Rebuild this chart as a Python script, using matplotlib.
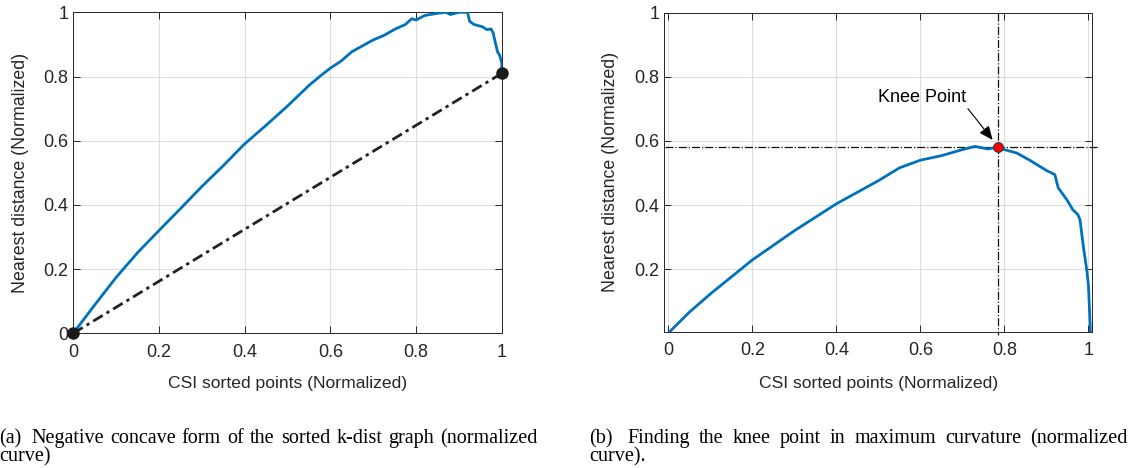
import matplotlib
matplotlib.use("Agg")
import matplotlib.pyplot as plt

# ---------------- data ----------------
left_x = [0.0, 0.05, 0.1, 0.15, 0.2, 0.25, 0.3, 0.35, 0.4, 0.45, 0.5, 0.55, 0.575,
          0.6, 0.625, 0.65, 0.7, 0.725, 0.75, 0.775, 0.79, 0.80, 0.82, 0.85, 0.87,
          0.88, 0.9, 0.92, 0.925, 0.935, 0.955, 0.965, 0.975, 0.98, 0.985, 0.99,
          0.995, 1.0, 1.0]
left_y = [0.0, 0.088, 0.174, 0.251, 0.32, 0.388, 0.457, 0.522, 0.59, 0.648, 0.708,
          0.772, 0.80, 0.826, 0.848, 0.877, 0.914, 0.928, 0.947, 0.962, 0.98, 0.976,
          0.99, 0.997, 1.0, 0.993, 1.0, 1.0, 0.972, 0.962, 0.955, 0.946, 0.948,
          0.935, 0.905, 0.877, 0.866, 0.842, 0.81]
chord_x = [0.0, 1.0]
chord_y = [0.0, 0.81]

right_x = [0.003, 0.05, 0.1, 0.2, 0.3, 0.4, 0.5, 0.55, 0.6, 0.65, 0.7, 0.73, 0.76, 0.784,
           0.8, 0.83, 0.86, 0.88, 0.9, 0.92, 0.928, 0.95, 0.963, 0.975, 0.98, 0.988,
           0.996, 1.0, 1.005]
right_y = [0.005, 0.066, 0.123, 0.229, 0.32, 0.404, 0.476, 0.516, 0.54, 0.554, 0.573,
           0.583, 0.575, 0.58, 0.573, 0.562, 0.54, 0.524, 0.508, 0.495, 0.454, 0.414,
           0.385, 0.37, 0.354, 0.27, 0.198, 0.15, 0.0]
knee_x = 0.784
knee_y = 0.58
knee_label = "Knee Point"

xticks = [0, 0.2, 0.4, 0.6, 0.8, 1]
xticklabels = ["0", "0.2", "0.4", "0.6", "0.8", "1"]
yticks_a = [0, 0.2, 0.4, 0.6, 0.8, 1]
yticklabels_a = ["0", "0.2", "0.4", "0.6", "0.8", "1"]
yticks_b = [0.2, 0.4, 0.6, 0.8, 1]
yticklabels_b = ["0.2", "0.4", "0.6", "0.8", "1"]

xlabel = "CSI sorted points (Normalized)"
ylabel = "Nearest distance (Normalized)"
caption_a = ["(a)  Negative concave form of the sorted k-dist graph (normalized", "curve)"]
caption_b = ["(b)  Finding the knee point in maximum curvature (normalized", "curve)."]

# ---------------- style ----------------
BLUE = "#0072BD"
AXC = "#262626"
plt.rcParams["font.family"] = ["Liberation Sans", "DejaVu Sans"]
SERIF = ["Liberation Serif", "DejaVu Serif"]

fig = plt.figure(figsize=(11.35, 4.68), dpi=100)
W, H = 1135, 468


def make_ax(l, r, t, b):
    return fig.add_axes([l / W, 1 - b / H, (r - l) / W, (b - t) / H])


def style(ax):
    for s in ax.spines.values():
        s.set_color(AXC)
        s.set_linewidth(0.7)
    ax.tick_params(direction="in", length=5, width=0.7, colors=AXC,
                   labelsize=13, top=True, right=True)
    ax.tick_params(axis="x", pad=7.5)
    ax.tick_params(axis="y", pad=3.5)
    ax.grid(True, color="#dedede", linewidth=0.8)
    ax.set_axisbelow(True)
    ax.set_xlabel(xlabel, fontsize=12.6, color=AXC)
    ax.set_ylabel(ylabel, fontsize=12.8, color=AXC)


# ---- left axes ----
ax1 = make_ax(73.2, 501.8, 12.3, 333.3)
style(ax1)
ax1.plot(chord_x, chord_y, color="#222222", lw=2.0, ls=(0, (4, 1.6, 1.2, 1.6)), zorder=3)
ax1.plot(left_x, left_y, color=BLUE, lw=2.0, zorder=4)
ax1.plot(chord_x, chord_y, ls="none", marker="o", ms=8, color="#1a1a1a", zorder=5,
         clip_on=False)
ax1.set_xlim(0, 1)
ax1.set_ylim(0, 1)
ax1.set_xticks(xticks)
ax1.set_xticklabels(xticklabels)
ax1.set_yticks(yticks_a)
ax1.set_yticklabels(yticklabels_a)
ax1.yaxis.set_label_coords(-0.103, 0.5)
ax1.xaxis.set_label_coords(0.5, -0.134)

# ---- right axes ----
ax2 = make_ax(664.2, 1092.2, 12.7, 331.7)
style(ax2)
ax2.plot(right_x, right_y, color=BLUE, lw=2.0, zorder=4)
ax2.set_xlim(-0.01, 1.009)
ax2.set_ylim(0.005, 1.0)
ax2.set_xticks(xticks)
ax2.set_xticklabels(xticklabels)
ax2.set_yticks(yticks_b)
ax2.set_yticklabels(yticklabels_b)
ax2.yaxis.set_label_coords(-0.106, 0.5)
ax2.xaxis.set_label_coords(0.5, -0.14)
ax2.plot([-0.008, 1.02], [knee_y, knee_y], color="#111111", lw=0.9, ls="-.",
         clip_on=False, zorder=3)
ax2.plot([knee_x, knee_x], [1.0, -0.006], color="#111111", lw=0.9, ls="-.",
         clip_on=False, zorder=3)
ax2.plot([knee_x], [knee_y], ls="none", marker="o", ms=7, mfc="#ff0000",
         mec="#333333", mew=0.8, zorder=6)
ax2.annotate(knee_label, xy=(0.772, 0.603), xytext=(0.603, 0.736),
             ha="center", va="center", fontsize=13, color="black",
             arrowprops=dict(arrowstyle="-|>,head_length=0.7,head_width=0.3",
                             color="black", lw=0.8, relpos=(1.0, 0.0),
                             shrinkA=0, shrinkB=0, mutation_scale=12))

# ---- captions (first line justified, like the LaTeX subcaption) ----
renderer = fig.canvas.get_renderer()
CAP_FS = 14.5


def justified(line, x0, x1, base):
    words = line.split()
    texts = [fig.text(0, 0, w, fontsize=CAP_FS, family=SERIF, va="baseline",
                      ha="left") for w in words]
    widths = [t.get_window_extent(renderer).width for t in texts]
    weights = [1.6] + [1.0] * (len(words) - 2)
    gap = (x1 - x0 - sum(widths)) / sum(weights)
    x = x0
    for i, (t, w) in enumerate(zip(texts, widths)):
        t.set_position((x / W, 1 - base / H))
        if i < len(weights):
            x += w + gap * weights[i]


justified(caption_a[0], -1.0, 537.5, 443.0)
fig.text(-1.0 / W, 1 - 461.7 / H, caption_a[1], fontsize=CAP_FS, family=SERIF,
         va="baseline", ha="left")
justified(caption_b[0], 589.0, 1127.5, 443.0)
fig.text(589.0 / W, 1 - 461.7 / H, caption_b[1], fontsize=CAP_FS, family=SERIF,
         va="baseline", ha="left")

fig.savefig("out.png", dpi=100)
